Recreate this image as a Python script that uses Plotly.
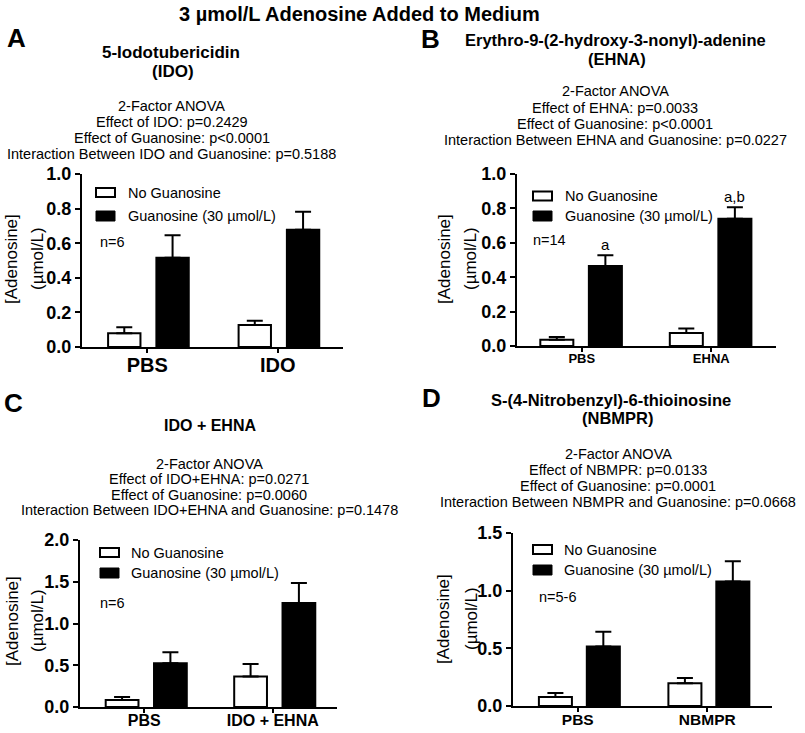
import plotly.graph_objects as go

W, H = 805, 733
FONT = "Liberation Sans, Arial, Helvetica, sans-serif"

# ---------------- data ----------------
legend_labels = ["No Guanosine", "Guanosine (30 µmol/L)"]

cats_A = ["PBS", "IDO"]
noguan_A = [0.079, 0.127]
noguan_err_A = [0.035, 0.025]
guan_A = [0.516, 0.678]
guan_err_A = [0.130, 0.104]

cats_B = ["PBS", "EHNA"]
noguan_B = [0.037, 0.076]
noguan_err_B = [0.016, 0.026]
guan_B = [0.465, 0.740]
guan_err_B = [0.062, 0.066]

cats_C = ["PBS", "IDO + EHNA"]
noguan_C = [0.084, 0.365]
noguan_err_C = [0.036, 0.150]
guan_C = [0.525, 1.245]
guan_err_C = [0.130, 0.240]

cats_D = ["PBS", "NBMPR"]
noguan_D = [0.078, 0.198]
noguan_err_D = [0.035, 0.045]
guan_D = [0.515, 1.080]
guan_err_D = [0.128, 0.175]

sig_B = ["a", "a,b"]

titles = {
    "A": ["5-Iodotubericidin", "(IDO)"],
    "B": ["Erythro-9-(2-hydroxy-3-nonyl)-adenine", "(EHNA)"],
    "C": ["IDO + EHNA"],
    "D": ["S-(4-Nitrobenzyl)-6-thioinosine", "(NBMPR)"],
}
anova = {
    "A": ["2-Factor ANOVA", "Effect of IDO: p=0.2429", "Effect of Guanosine: p<0.0001",
          "Interaction Between IDO and Guanosine: p=0.5188"],
    "B": ["2-Factor ANOVA", "Effect of EHNA: p=0.0033", "Effect of Guanosine: p<0.0001",
          "Interaction Between EHNA and Guanosine: p=0.0227"],
    "C": ["2-Factor ANOVA", "Effect of IDO+EHNA: p=0.0271", "Effect of Guanosine: p=0.0060",
          "Interaction Between IDO+EHNA and Guanosine: p=0.1478"],
    "D": ["2-Factor ANOVA", "Effect of NBMPR: p=0.0133", "Effect of Guanosine: p=0.0001",
          "Interaction Between NBMPR and Guanosine: p=0.0668"],
}
n_text = {"A": "n=6", "B": "n=14", "C": "n=6", "D": "n=5-6"}


def px(x):
    return x / W


def py(y):
    return 1 - y / H


panels = [
    dict(key="A", cats=cats_A, no=noguan_A, noe=noguan_err_A, g=guan_A, ge=guan_err_A,
         xd=(82, 343), yd=(174, 347), yr=[0, 1.0], dtick=0.2, xfs=20, xso=-5,
         woff=-0.30, boff=0.07, bw=0.248,
         letter=(16, 38), tpos=[(171, 52, 17), (173, 72, 17)], apos=(171.5, [106, 122, 137.5, 154]),
         ytit=(12, 38, 259), leg=(96, 188, 216, 126), npos=(98, 242)),
    dict(key="B", cats=cats_B, no=noguan_B, noe=noguan_err_B, g=guan_B, ge=guan_err_B,
         xd=(517, 776), yd=(174, 346), yr=[0, 1.0], dtick=0.2, xfs=13, xso=-5,
         woff=-0.32, boff=0.055, bw=0.255,
         letter=(430, 39), tpos=[(615, 40, 16.5), (617, 59, 16.5)], apos=(615, [91, 107.5, 124, 140]),
         ytit=(445, 471, 259), leg=(533, 191.5, 216, 563), npos=(531, 240)),
    dict(key="C", cats=cats_C, no=noguan_C, noe=noguan_err_C, g=guan_C, ge=guan_err_C,
         xd=(80, 337), yd=(540, 707), yr=[0, 2.0], dtick=0.5, xfs=16, xso=-6,
         woff=-0.30, boff=0.076, bw=0.255,
         letter=(13, 403), tpos=[(210, 426, 16)], apos=(209, [463.5, 479, 494.5, 510]),
         ytit=(12, 37, 621), leg=(100, 548, 573, 129), npos=(98, 603)),
    dict(key="D", cats=cats_D, no=noguan_D, noe=noguan_err_D, g=guan_D, ge=guan_err_D,
         xd=(513, 772), yd=(533, 706), yr=[0, 1.5], dtick=0.5, xfs=15.5, xso=-6,
         woff=-0.30, boff=0.07, bw=0.255,
         letter=(432, 398), tpos=[(611, 400, 16.5), (618, 418, 16.5)], apos=(618, [454, 470, 486, 502]),
         ytit=(443, 471, 619), leg=(533, 545, 570, 562), npos=(537, 597)),
]

fig = go.Figure()
layout_axes = {}
annotations = []
shapes = []

for i, p in enumerate(panels, start=1):
    xa = "x" if i == 1 else f"x{i}"
    ya = "y" if i == 1 else f"y{i}"
    xk = "xaxis" if i == 1 else f"xaxis{i}"
    yk = "yaxis" if i == 1 else f"yaxis{i}"

    fig.add_trace(go.Bar(
        x=p["cats"], y=p["no"], width=p["bw"], offset=p["woff"], xaxis=xa, yaxis=ya,
        name=legend_labels[0], showlegend=False, hoverinfo="skip",
        marker=dict(color="white", line=dict(color="black", width=2)),
        error_y=dict(type="data", array=p["noe"], arrayminus=[0] * len(p["noe"]), symmetric=False,
                     color="black", thickness=2, width=8),
    ))
    fig.add_trace(go.Bar(
        x=p["cats"], y=p["g"], width=p["bw"], offset=p["boff"], xaxis=xa, yaxis=ya,
        name=legend_labels[1], showlegend=False, hoverinfo="skip",
        marker=dict(color="black", line=dict(color="black", width=2)),
        error_y=dict(type="data", array=p["ge"], arrayminus=[0] * len(p["ge"]), symmetric=False,
                     color="black", thickness=2, width=8),
    ))

    layout_axes[xk] = dict(
        domain=[px(p["xd"][0]), px(p["xd"][1])], anchor=ya, type="category",
        range=[-0.5, 1.5], showline=True, linecolor="black", linewidth=2,
        ticks="outside", ticklen=4, tickwidth=2, tickcolor="black",
        ticklabelstandoff=p["xso"],
        tickfont=dict(family=FONT, size=p["xfs"], color="black", weight="bold"),
        showgrid=False, zeroline=False, fixedrange=True, automargin=False,
    )
    layout_axes[yk] = dict(
        domain=[py(p["yd"][1]), py(p["yd"][0])], anchor=xa,
        range=p["yr"], tick0=0, dtick=p["dtick"], tickformat=".1f",
        showline=True, linecolor="black", linewidth=2,
        ticks="outside", ticklen=5, tickwidth=2, tickcolor="black",
        tickfont=dict(family=FONT, size=18, color="black", weight="bold"),
        showgrid=False, zeroline=False, fixedrange=True, automargin=False,
    )

    # panel letter
    lx, ly = p["letter"]
    annotations.append(dict(text=p["key"], x=px(lx), y=py(ly), xref="paper", yref="paper",
                            showarrow=False, xanchor="center", yanchor="middle",
                            font=dict(family=FONT, size=26, color="black", weight="bold")))
    # subtitles
    for txt, (tx, ty, fs) in zip(titles[p["key"]], p["tpos"]):
        annotations.append(dict(text=txt, x=px(tx), y=py(ty), xref="paper", yref="paper",
                                showarrow=False, xanchor="center", yanchor="middle",
                                font=dict(family=FONT, size=fs, color="black", weight="bold")))
    # anova lines
    ax_, ays = p["apos"]
    for txt, ty in zip(anova[p["key"]], ays):
        annotations.append(dict(text=txt, x=px(ax_), y=py(ty), xref="paper", yref="paper",
                                showarrow=False, xanchor="center", yanchor="middle",
                                font=dict(family=FONT, size=14.5, color="black")))
    # y titles
    t1x, t2x, tyc = p["ytit"]
    annotations.append(dict(text="[Adenosine]", x=px(t1x), y=py(tyc), xref="paper", yref="paper",
                            showarrow=False, textangle=-90, xanchor="center", yanchor="middle",
                            font=dict(family=FONT, size=17, color="black")))
    annotations.append(dict(text="(µmol/L)", x=px(t2x), y=py(tyc), xref="paper", yref="paper",
                            showarrow=False, textangle=-90, xanchor="center", yanchor="middle",
                            font=dict(family=FONT, size=17, color="black")))
    # legend (drawn)
    bx, wy, gy, tx = p["leg"]
    shapes.append(dict(type="rect", xref="paper", yref="paper",
                       x0=px(bx), x1=px(bx + 19), y0=py(wy + 9), y1=py(wy),
                       line=dict(color="black", width=2), fillcolor="white"))
    shapes.append(dict(type="rect", xref="paper", yref="paper",
                       x0=px(bx), x1=px(bx + 19), y0=py(gy + 5), y1=py(gy - 5),
                       line=dict(color="black", width=1), fillcolor="black"))
    annotations.append(dict(text=legend_labels[0], x=px(tx), y=py(wy + 4.5), xref="paper", yref="paper",
                            showarrow=False, xanchor="left", yanchor="middle",
                            font=dict(family=FONT, size=14.5, color="black")))
    annotations.append(dict(text=legend_labels[1], x=px(tx), y=py(gy), xref="paper", yref="paper",
                            showarrow=False, xanchor="left", yanchor="middle",
                            font=dict(family=FONT, size=14.5, color="black")))
    nx, ny = p["npos"]
    annotations.append(dict(text=n_text[p["key"]], x=px(nx), y=py(ny), xref="paper", yref="paper",
                            showarrow=False, xanchor="left", yanchor="middle",
                            font=dict(family=FONT, size=14.5, color="black")))

    if p["key"] == "B":
        for k, s in enumerate(sig_B):
            annotations.append(dict(text=s, x=k + p["boff"] + p["bw"] / 2, y=p["g"][k] + p["ge"][k],
                                    xref=xa, yref=ya, showarrow=False, xanchor="center",
                                    yanchor="bottom", yshift=0,
                                    font=dict(family=FONT, size=15, color="black")))

annotations.append(dict(text="3 µmol/L Adenosine Added to Medium", x=px(359), y=py(14),
                        xref="paper", yref="paper", showarrow=False, xanchor="center", yanchor="middle",
                        font=dict(family=FONT, size=20, color="black", weight="bold")))

fig.update_layout(
    width=W, height=H, margin=dict(l=0, r=0, t=0, b=0, pad=0, autoexpand=False),
    paper_bgcolor="white", plot_bgcolor="white",
    barmode="overlay", showlegend=False, hovermode=False,
    font=dict(family=FONT, color="black"),
    annotations=annotations, shapes=shapes,
    **layout_axes,
)

fig.write_html("out.html", config={"displayModeBar": False},
               post_script="document.body.style.margin='0';document.body.style.overflow='hidden';")
